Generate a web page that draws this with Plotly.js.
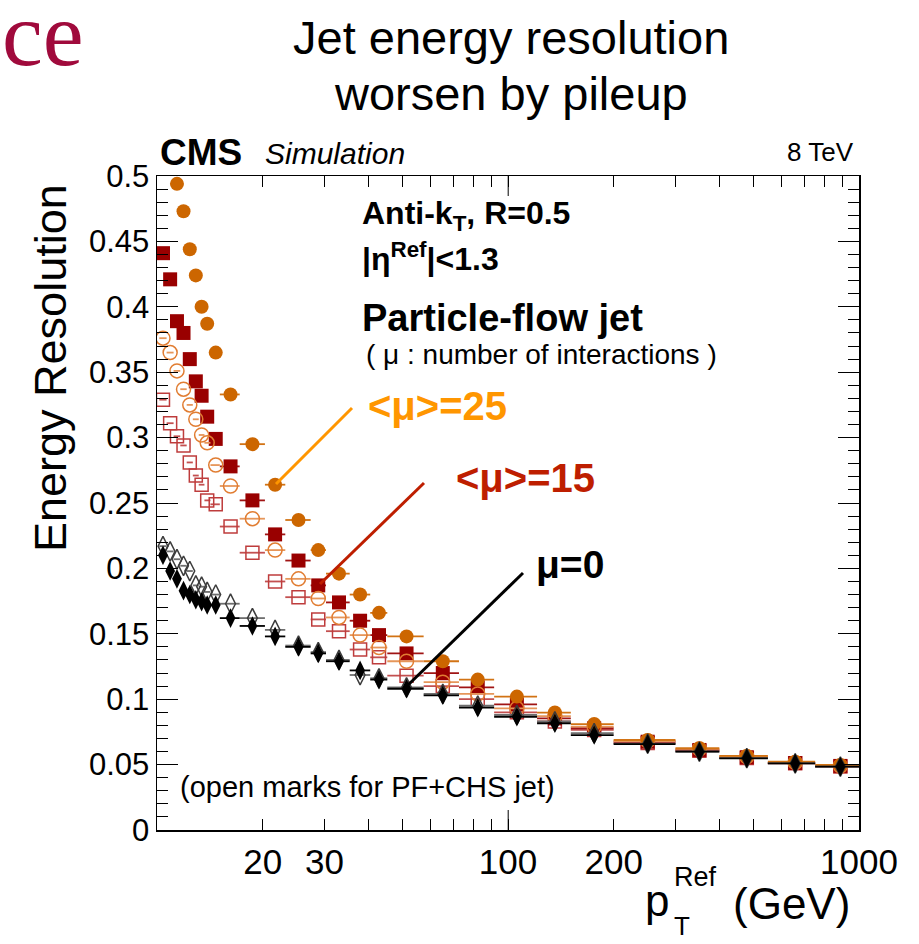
<!DOCTYPE html>
<html><head><meta charset="utf-8">
<script src="https://cdn.plot.ly/plotly-3.0.1.min.js"></script>
<style>html,body{margin:0;padding:0;background:#fff;}#plot{width:919px;height:944px;}</style>
</head><body><div id="plot"></div>
<script>
// bin centres (GeV) and bin edges
const ptCenters = [10.4,10.9,11.4,11.9,12.4,12.9,13.4,13.9,14.7,16.2,18.7,21.7,25.3,28.8,33.0,37.9,42.9,51.4,65.2,82.0,106,136,176,250,351,479,658,885];
const binEdges  = [10.15,10.65,11.15,11.65,12.15,12.65,13.15,13.65,14.2,15.1,17.2,20.3,23.2,27.4,30.3,35.4,40.5,45.3,57.5,72.5,91.3,121,151,200,300,400,550,750,1000];

const mu25PF  = [null,null,0.494,0.473,0.444,0.424,0.400,0.387,0.365,0.333,0.295,0.264,0.237,0.214,0.196,0.180,0.166,0.148,0.129,0.115,0.102,0.0898,0.081,0.0688,0.0625,0.0566,0.0522,0.0497];
const mu15PF  = [0.441,0.421,0.389,0.380,0.360,0.343,0.332,0.316,0.299,0.278,0.252,0.226,0.206,0.187,0.174,0.160,0.149,0.135,0.120,0.109,0.096,0.0853,0.0778,0.0675,0.0612,0.0556,0.0512,0.049];
const mu25CHS = [0.376,0.365,0.351,0.337,0.325,0.314,0.302,0.296,0.279,0.263,0.238,0.214,0.192,0.177,0.1625,0.149,0.1395,0.129,0.113,0.104,0.093,0.087,0.079,0.068,0.062,0.056,0.0515,0.049];
const mu15CHS = [0.329,0.311,0.301,0.294,0.281,0.271,0.264,0.252,0.249,0.232,0.212,0.190,0.178,0.161,0.152,0.138,0.132,0.118,0.110,0.100,0.090,0.083,0.0765,0.0665,0.0605,0.055,0.051,0.0485];
const mu0PF   = [0.210,0.198,0.192,0.183,0.180,0.176,0.1745,0.172,0.172,0.162,0.156,0.148,0.140,0.135,0.129,0.122,0.115,0.108,0.103,0.0935,0.0866,0.0816,0.0726,0.0657,0.0599,0.0548,0.0509,0.0484];
const mu0CHS  = [0.217,0.213,0.207,0.202,0.198,0.187,0.186,0.182,0.180,0.173,0.162,0.153,0.141,0.136,0.130,0.1185,0.116,0.109,0.104,0.095,0.088,0.083,0.074,0.066,0.060,0.055,0.051,0.0485];

const xTickVals = [20,30,100,200,1000];
const xTickText = ['20','30','100','200','1000'];
const xMinorVals = [40,50,60,70,80,90,300,400,500,600,700,800,900];
const yTickVals = [0,0.05,0.1,0.15,0.2,0.25,0.3,0.35,0.4,0.45,0.5];
const yTickText = ['0','0.05','0.1','0.15','0.2','0.25','0.3','0.35','0.4','0.45','0.5'];

const errPlus  = ptCenters.map((c,i)=>binEdges[i+1]-c);
const errMinus = ptCenters.map((c,i)=>c-binEdges[i]);

function series(y, symbol, size, fill, lineColor, barColor, lw){
  return {
    x: ptCenters, y: y, type:'scatter', mode:'markers', showlegend:false, cliponaxis:true,
    marker:{symbol:symbol, size:size, color:fill, line:{color:lineColor, width:lw}},
    error_x:{type:'data', symmetric:false, array:errPlus, arrayminus:errMinus, width:0, thickness:1.8, color:barColor}
  };
}

const traces = [
  series(mu15CHS,'square-open',13,'rgb(190,60,60)','rgb(190,60,60)','rgb(195,80,80)',1.5),
  series(mu15PF,'square',14,'rgb(153,0,0)','rgb(153,0,0)','rgb(160,20,20)',0),
  series(mu25CHS,'circle-open',14,'rgb(225,125,50)','rgb(225,125,50)','rgb(230,150,90)',1.5),
  series(mu25PF,'circle',14,'rgb(204,102,0)','rgb(204,102,0)','rgb(210,115,20)',0),
  series(mu0CHS,'diamond-tall-open',14,'rgb(60,60,60)','rgb(60,60,60)','rgb(110,110,110)',1.5),
  series(mu0PF,'diamond-tall',14,'black','black','black',0)
];

const F = 'Liberation Sans, Arial, Helvetica, sans-serif';
const px = v => (v-157)/702;
const py = v => (830-v)/654;

function ann(text, x, y, size, opts){
  return Object.assign({text:text, xref:'paper', yref:'paper', x:px(x), y:py(y), xanchor:'left', yanchor:'middle',
    showarrow:false, font:{family:F, size:size, color:'black'}}, opts||{});
}

const annotations = [
  ann('ce', 0, 34, 92, {font:{family:'Liberation Serif, DejaVu Serif, serif', size:92, color:'rgb(160,10,60)'}}),
  ann('Jet energy resolution', 511, 37, 47, {xanchor:'center'}),
  ann('worsen by pileup', 511, 93, 47, {xanchor:'center'}),
  ann('<b>CMS</b>', 158, 152, 37),
  ann('<i>Simulation</i>', 263, 154, 30),
  ann('8 TeV', 856, 152, 26, {xanchor:'right'}),
  ann('<b>Anti-k<sub>T</sub>, R=0.5</b>', 360, 215, 32),
  ann('<b>|η<sup>Ref</sup>|&lt;1.3</b>', 360, 257, 32),
  ann('<b>Particle-flow jet</b>', 360, 318, 38),
  ann('( μ : number of interactions )', 364, 354, 28),
  ann('<b>&lt;μ&gt;=25</b>', 366, 406, 40, {font:{family:F, size:40, color:'rgb(255,150,0)'}}),
  ann('<b>&lt;μ&gt;=15</b>', 454, 478, 40, {font:{family:F, size:40, color:'rgb(190,30,0)'}}),
  ann('<b>μ=0</b>', 534, 564, 39),
  ann('(open marks for PF+CHS jet)', 178, 787, 29),
  ann('Energy Resolution', 50, 368, 45, {xanchor:'center', textangle:-90}),
  ann('p', 643, 900, 44),
  ann('Ref', 672, 877, 27),
  ann('T', 672, 926, 26),
  ann('(GeV)', 731, 903, 44)
];

const shapes = [
  {type:'line', xref:'paper', yref:'paper', x0:px(276), y0:py(484), x1:px(352), y1:py(408), line:{color:'rgb(255,150,0)', width:3}},
  {type:'line', xref:'paper', yref:'paper', x0:px(320), y0:py(584), x1:px(424), y1:py(483), line:{color:'rgb(190,30,0)', width:3}},
  {type:'line', xref:'paper', yref:'paper', x0:px(405), y0:py(688), x1:px(523), y1:py(573), line:{color:'black', width:3}},
  // longer tick at 100 (bottom and top)
  {type:'line', xref:'paper', yref:'paper', x0:px(508.2), x1:px(508.2), y0:0, y1:20/654, line:{color:'black', width:1}},
  {type:'line', xref:'paper', yref:'paper', x0:px(508.2), x1:px(508.2), y0:1, y1:1-20/654, line:{color:'black', width:1}}
];

const layout = {
  width:919, height:944,
  margin:{l:157, r:60, t:176, b:114, pad:0},
  paper_bgcolor:'white', plot_bgcolor:'white',
  font:{family:F, color:'black'},
  xaxis:{type:'log', range:[1,3], showgrid:false, zeroline:false, showline:true, linecolor:'black', linewidth:1.5, mirror:'ticks',
         tickmode:'array', tickvals:xTickVals, ticktext:xTickText, ticks:'inside', ticklen:11, tickwidth:1, tickcolor:'black',
         tickfont:{family:F, size:35, color:'black'},
         minor:{tickmode:'array', tickvals:xMinorVals, ticks:'inside', ticklen:11, tickwidth:1, tickcolor:'black', showgrid:false}},
  yaxis:{range:[0,0.5], showgrid:false, zeroline:false, showline:true, linecolor:'black', linewidth:1.5, mirror:'ticks',
         tickmode:'array', tickvals:yTickVals, ticktext:yTickText, ticks:'inside', ticklen:21, tickwidth:1, tickcolor:'black',
         tickfont:{family:F, size:31, color:'black'},
         minor:{dtick:0.01, tick0:0, ticks:'inside', ticklen:11, tickwidth:1, tickcolor:'black', showgrid:false}},
  annotations:annotations, shapes:shapes
};

Plotly.newPlot('plot', traces, layout, {displayModeBar:false, staticPlot:true});
</script></body></html>
